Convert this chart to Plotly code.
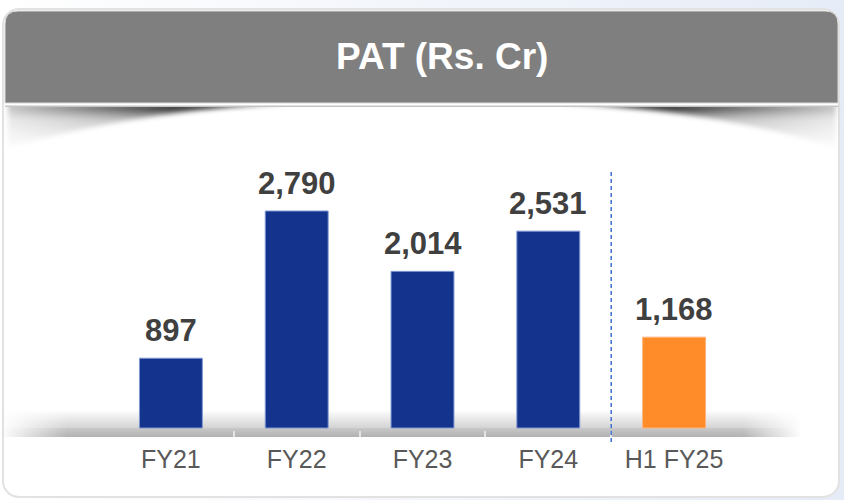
import base64
import plotly.graph_objects as go

# ---- data ----
categories = ["FY21", "FY22", "FY23", "FY24", "H1 FY25"]
pat_values = [897, 2790, 2014, 2531, 1168]
bar_colors = ["#13338C", "#13338C", "#13338C", "#13338C", "#FF8C29"]
edge_colors = ["#7F97D2", "#7F97D2", "#7F97D2", "#7F97D2", "#FFB37A"]
title_text = "PAT (Rs. Cr)"

W, H = 844, 500

# ---- decorative background (card, header, shadows, baseline band) ----
svg = f"""<svg xmlns="http://www.w3.org/2000/svg" width="{W}" height="{H}" viewBox="0 0 {W} {H}">
<defs>
 <linearGradient id="bg" x1="0" y1="0" x2="1" y2="0">
  <stop offset="0" stop-color="#ffffff"/><stop offset="1" stop-color="#E6ECF7"/>
 </linearGradient>
 <linearGradient id="sh" gradientUnits="userSpaceOnUse" x1="0" y1="106" x2="0" y2="150">
  <stop offset="0" stop-color="#000" stop-opacity="0.85"/>
  <stop offset="0.3" stop-color="#000" stop-opacity="0.3"/>
  <stop offset="1" stop-color="#000" stop-opacity="0"/>
 </linearGradient>
 <linearGradient id="hfade" x1="0" y1="0" x2="1" y2="0">
  <stop offset="0" stop-color="#fff" stop-opacity="0.25"/>
  <stop offset="0.2" stop-color="#fff" stop-opacity="1"/>
  <stop offset="0.8" stop-color="#fff" stop-opacity="1"/>
  <stop offset="1" stop-color="#fff" stop-opacity="0.25"/>
 </linearGradient>
 <mask id="shmask"><rect x="0" y="100" width="{W}" height="60" fill="url(#hfade)"/></mask>
 <filter id="blur" x="-10%" y="-50%" width="120%" height="200%"><feGaussianBlur stdDeviation="2.5"/></filter>
 <linearGradient id="basetop" x1="0" y1="0" x2="0" y2="1">
  <stop offset="0" stop-color="#D0D0D0" stop-opacity="0"/><stop offset="1" stop-color="#D4D4D4" stop-opacity="1"/>
 </linearGradient>
 <linearGradient id="baseband" x1="0" y1="0" x2="0" y2="1">
  <stop offset="0" stop-color="#C8C8C8"/><stop offset="1" stop-color="#B2B2B2"/>
 </linearGradient>
 <linearGradient id="bfade" x1="0" y1="0" x2="1" y2="0">
  <stop offset="0" stop-color="#fff" stop-opacity="0"/>
  <stop offset="0.08" stop-color="#fff" stop-opacity="1"/>
  <stop offset="0.88" stop-color="#fff" stop-opacity="1"/>
  <stop offset="0.95" stop-color="#fff" stop-opacity="0"/>
 </linearGradient>
 <mask id="bmask"><rect x="0" y="400" width="{W}" height="45" fill="url(#bfade)"/></mask>
</defs>
<rect width="{W}" height="{H}" fill="url(#bg)"/>
<rect x="3" y="9" width="836" height="488" rx="16" ry="16" fill="#ffffff" stroke="#E2E2E2" stroke-width="2"/>
<g mask="url(#shmask)">
 <path d="M8,104 L836,104 L836,148 C 770,126 660,106 560,104 L290,104 C 190,106 80,126 8,148 Z" fill="url(#sh)" filter="url(#blur)"/>
</g>
<rect x="5" y="103" width="833" height="3" fill="#ffffff"/>
<rect x="5" y="105.5" width="833" height="1.5" fill="#C4C4C4"/>
<path d="M5,103 L5,24 Q5,11 18,11 L825,11 Q838,11 838,24 L838,103 Z" fill="#7F7F7F" stroke="#D9D9D9" stroke-width="1"/>
<g mask="url(#bmask)">
 <rect x="0" y="410" width="{W}" height="18" fill="url(#basetop)"/>
 <rect x="0" y="428" width="{W}" height="9" fill="url(#baseband)"/>
</g>
</svg>"""
svg_uri = "data:image/svg+xml;base64," + base64.b64encode(svg.encode()).decode()

# plot area in pixels: x 108..737, y 150..437 ; value 0 sits at y=428
px_per_unit = 217 / 2790.0
y_min = -9 / px_per_unit
y_max = (428 - 150) / px_per_unit

fig = go.Figure()
fig.add_trace(go.Bar(
    x=categories, y=pat_values, width=0.5,
    marker=dict(color=bar_colors, line=dict(color=edge_colors, width=1)),
    hoverinfo="skip", showlegend=False,
))

for c, v in zip(categories, pat_values):
    fig.add_annotation(x=c, y=v, xref="x", yref="y", text=f"<b>{v:,}</b>",
                       showarrow=False, yanchor="bottom", yshift=8,
                       font=dict(family="Arial, Liberation Sans", size=31, color="#404040"))

fig.add_annotation(x=442 / W, y=1 - 57 / H, xref="paper", yref="paper", text=f"<b>{title_text}</b>",
                   showarrow=False, xanchor="center", yanchor="middle",
                   font=dict(family="Arial, Liberation Sans", size=37, color="#FFFFFF"))

# dashed separator between FY24 and H1 FY25
fig.add_shape(type="line", xref="x", yref="paper", x0=3.5, x1=3.5,
              y0=1 - 442 / H, y1=1 - 172 / H,
              line=dict(color="#3F6FD2", width=1.5, dash="4px,3px"))

fig.add_layout_image(dict(source=svg_uri, xref="paper", yref="paper", x=0, y=1,
                          sizex=1, sizey=1, xanchor="left", yanchor="top",
                          sizing="stretch", layer="below"))

fig.update_layout(
    width=W, height=H,
    margin=dict(l=0, r=0, t=0, b=0),
    paper_bgcolor="#FFFFFF", plot_bgcolor="rgba(0,0,0,0)",
    xaxis=dict(domain=[108 / W, 737 / W], type="category", range=[-0.5, 4.5],
               showline=False, showgrid=False, zeroline=False,
               ticks="inside", tickson="boundaries", ticklen=6, tickwidth=2,
               tickcolor="#E4E4E4", ticklabelstandoff=5,
               tickfont=dict(family="Arial, Liberation Sans", size=25, color="#595959")),
    yaxis=dict(domain=[(H - 437) / H, (H - 150) / H], range=[y_min, y_max],
               visible=False, showgrid=False, zeroline=False),
    bargap=0.5,
)

fig.write_html("out.html", config={"displayModeBar": False},
               post_script="document.body.style.margin='0';")
